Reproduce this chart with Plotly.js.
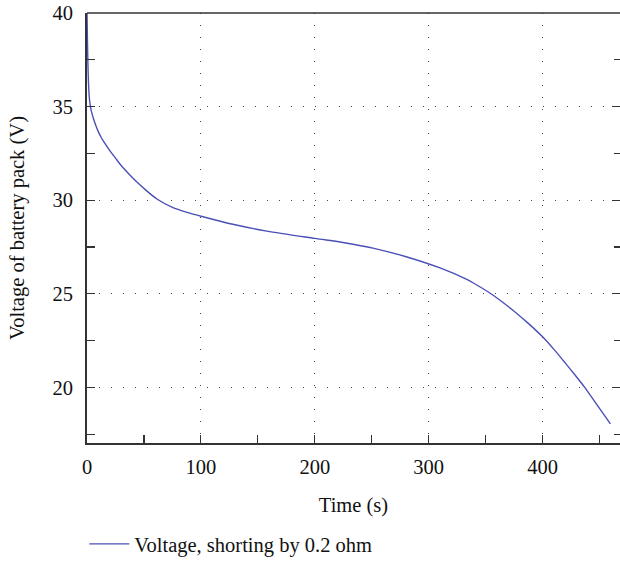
<!DOCTYPE html>
<html>
<head>
<meta charset="utf-8">
<script src="https://cdn.plot.ly/plotly-3.0.1.min.js"></script>
<style>html,body{margin:0;padding:0;background:#fff;}#chart{width:620px;height:561px;}</style>
</head>
<body>
<div id="chart"></div>
<script>
const timeS = [0, 0.4, 0.8, 1.3, 2, 3, 4.5, 6, 8, 10, 12.5, 15, 20, 25, 30, 37.6, 45, 51.4, 61.7, 75, 88, 101, 129, 158, 200, 226, 252, 278, 310, 333, 340, 355, 365, 375, 387.5, 400, 410, 420, 428, 437, 448, 459.6];
const voltage = [40, 38.5, 37.3, 36.3, 35.5, 35.0, 34.6, 34.3, 33.95, 33.65, 33.35, 33.1, 32.65, 32.25, 31.85, 31.35, 30.9, 30.55, 30.05, 29.62, 29.35, 29.13, 28.7, 28.35, 27.96, 27.73, 27.43, 27.02, 26.38, 25.78, 25.55, 24.99, 24.55, 24.07, 23.42, 22.7, 22.03, 21.3, 20.7, 20.0, 19.05, 18.05];
const seriesName = 'Voltage, shorting by 0.2 ohm';
const xTitle = 'Time (s)';
const yTitle = 'Voltage of battery pack (V)';

const font = {family: 'Times New Roman, Liberation Serif, serif', size: 20.5, color: '#111'};
const gridDash = '1px,11px';
const axisColor = '#333';

Plotly.newPlot('chart', [{
  x: timeS, y: voltage, type: 'scatter', mode: 'lines', name: seriesName,
  line: {color: '#4B50B6', width: 1.4, shape: 'spline', smoothing: 0.8}
}, {
  x: [timeS[0]], y: [voltage[0]], yaxis: 'y2', type: 'scatter', mode: 'none',
  showlegend: false, hoverinfo: 'skip'
}], {
  width: 620, height: 561,
  margin: {l: 87, r: 0, t: 13, b: 118, autoexpand: false},
  paper_bgcolor: '#fff', plot_bgcolor: '#fff',
  font: font,
  showlegend: true,
  legend: {orientation: 'h', x: -0.005, xanchor: 'left', y: -0.235, yanchor: 'middle', font: font, bgcolor: 'rgba(0,0,0,0)', itemwidth: 40},
  shapes: [{type: 'line', xref: 'paper', yref: 'paper', x0: 0, x1: 1, y0: 1, y1: 1, line: {color: axisColor, width: 1.5}}],
  xaxis: {
    range: [0, 468], tick0: 0, dtick: 100, ticks: 'inside', ticklen: 8, tickcolor: axisColor, tickwidth: 1.2,
    showline: true, linecolor: axisColor, linewidth: 2, mirror: false, automargin: false,
    showgrid: true, gridcolor: '#444', gridwidth: 1, griddash: gridDash,
    zeroline: false, tickfont: font, ticklabelstandoff: 4,
    minor: {dtick: 50, ticks: 'inside', ticklen: 8, tickcolor: axisColor, tickwidth: 1.2, showgrid: false},
    title: {text: xTitle, font: font, standoff: 21}
  },
  yaxis: {
    range: [17.03, 40], tick0: 0, dtick: 5, ticks: 'inside', ticklen: 8, tickcolor: axisColor, tickwidth: 1.2,
    showline: true, linecolor: axisColor, linewidth: 2, mirror: false, automargin: false,
    showgrid: true, gridcolor: '#444', gridwidth: 1, griddash: gridDash,
    zeroline: false, tickfont: font, ticklabelstandoff: 8,
    minor: {dtick: 2.5, ticks: 'inside', ticklen: 8, tickcolor: axisColor, tickwidth: 1.2, showgrid: false},
    title: {text: yTitle, font: font, standoff: 22}
  },
  yaxis2: {
    overlaying: 'y', side: 'right', anchor: 'x', automargin: false,
    range: [17.03, 40], tick0: 0, dtick: 5, ticks: 'inside', ticklen: 8, tickcolor: axisColor, tickwidth: 1.2,
    showline: false, showgrid: false, zeroline: false, showticklabels: false,
    minor: {dtick: 2.5, ticks: 'inside', ticklen: 6, tickcolor: axisColor, tickwidth: 1.2, showgrid: false}
  }
}, {staticPlot: true});
</script>
</body>
</html>
